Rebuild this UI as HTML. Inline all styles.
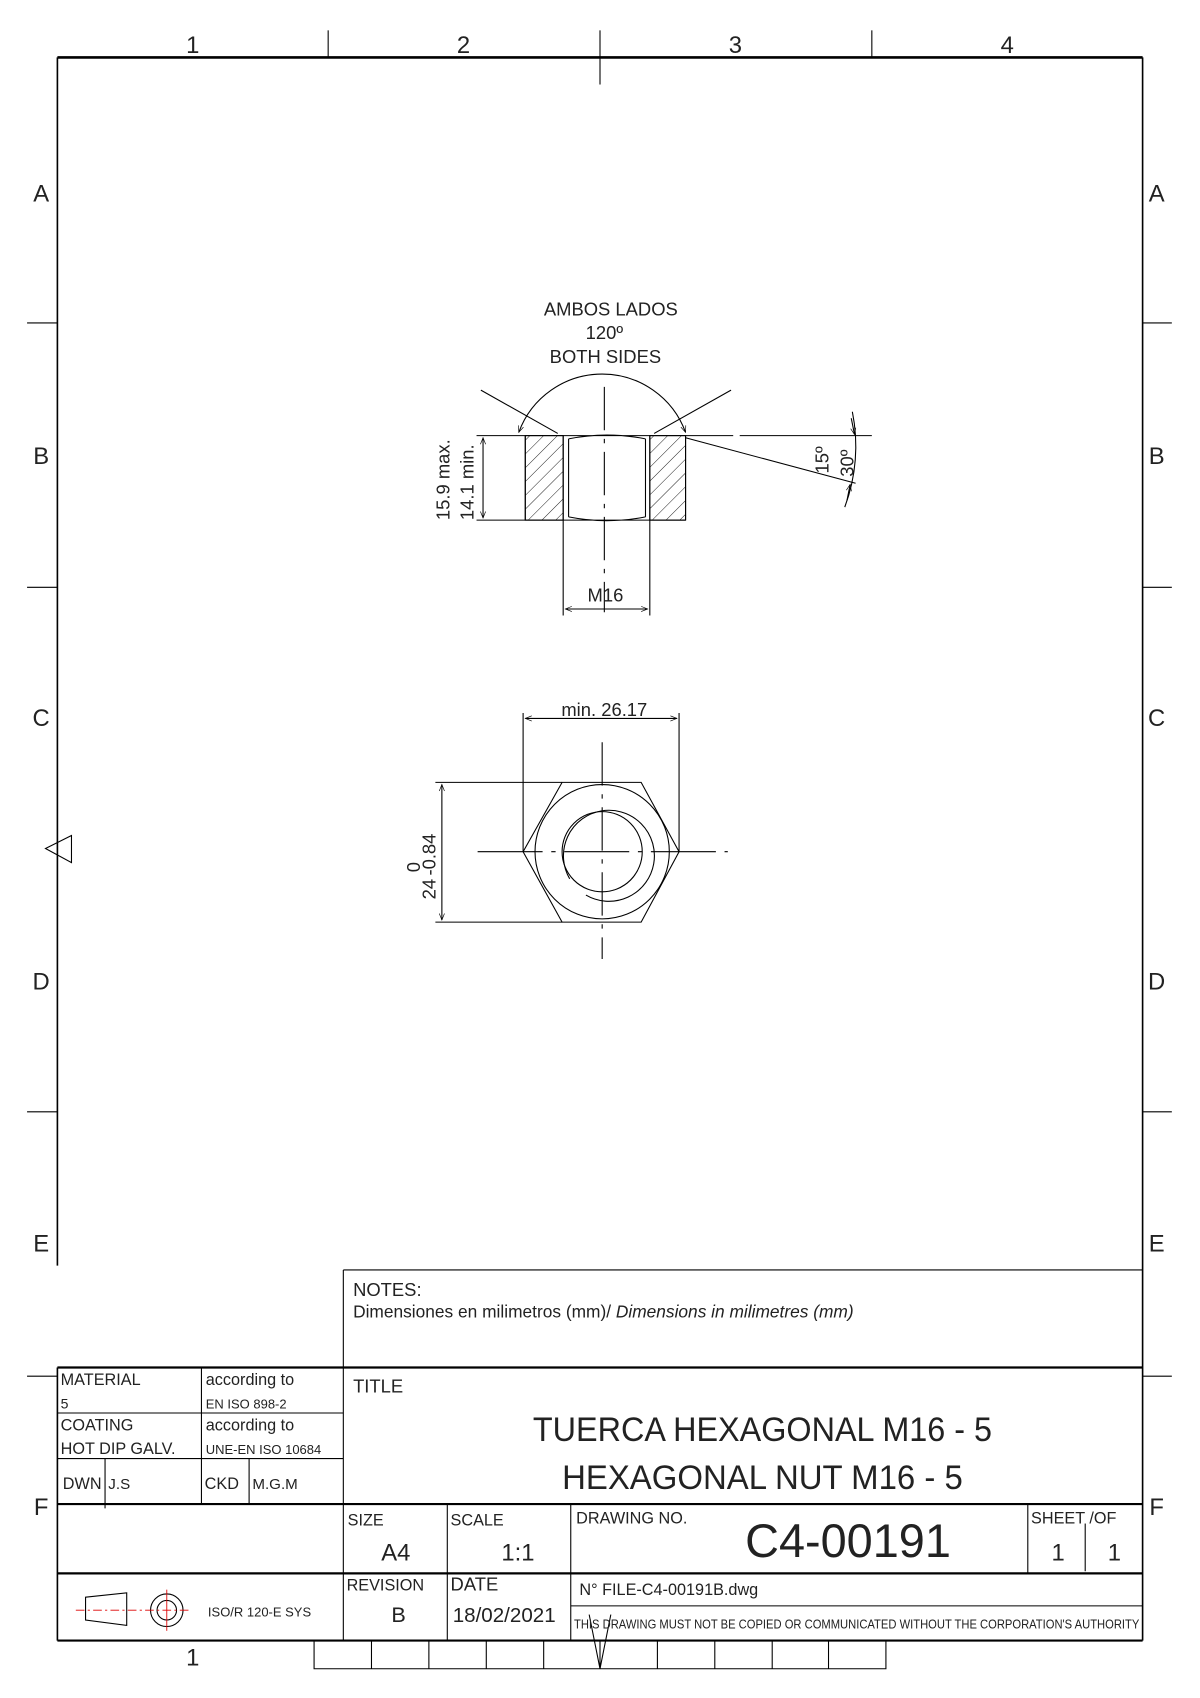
<!DOCTYPE html>
<html><head><meta charset="utf-8"><style>
html,body{margin:0;padding:0;background:#fff;}
svg{display:block;}
text{font-family:"Liberation Sans Narrow","Liberation Sans",sans-serif;fill:#222;}
</style></head><body>
<svg width="1200" height="1698" viewBox="0 0 1108 1567" preserveAspectRatio="none" xmlns="http://www.w3.org/2000/svg">
<defs>
<marker id="ar" viewBox="0 0 10 10" refX="10" refY="5" markerWidth="10" markerHeight="6" orient="auto-start-reverse" markerUnits="userSpaceOnUse"><path d="M0,1 L10,5 L0,9" fill="none" stroke="#000" stroke-width="1"/></marker>
<pattern id="hatch" patternUnits="userSpaceOnUse" width="9" height="9" patternTransform="rotate(45)"><line x1="0" y1="0" x2="0" y2="9" stroke="#000" stroke-width="0.8"/></pattern>
</defs>
<g stroke="#000" fill="none" stroke-width="1">
<line x1="53" y1="53" x2="1055" y2="53" stroke-width="2.5"/>
<line x1="1055" y1="53" x2="1055" y2="1514" stroke-width="1.5"/>
<line x1="53" y1="53" x2="53" y2="1168" stroke-width="1.5"/>
<line x1="303" y1="28" x2="303" y2="53"/><line x1="554" y1="28" x2="554" y2="78"/><line x1="805" y1="28" x2="805" y2="53"/>
<line x1="25" y1="298" x2="53" y2="298"/><line x1="25" y1="542" x2="53" y2="542"/><line x1="25" y1="1026" x2="53" y2="1026"/><line x1="25" y1="1270" x2="53" y2="1270"/>
<line x1="1055" y1="298" x2="1082" y2="298"/><line x1="1055" y1="542" x2="1082" y2="542"/><line x1="1055" y1="1026" x2="1082" y2="1026"/><line x1="1055" y1="1270" x2="1082" y2="1270"/>
<path d="M66,771 L42,783 L66,796 Z"/>
<rect x="485" y="402" width="35" height="78" fill="url(#hatch)"/>
<rect x="600" y="402" width="33" height="78" fill="url(#hatch)"/>
<path d="M485,402 H633 M485,480 H633 M485,402 V480 M633,402 V480 M520,402 V480 M600,402 V480 M525,405 V477 M596,405 V477 M525,405 Q560,398 596,405 M525,477 Q560,484 596,477"/>
<line x1="558" y1="357" x2="558" y2="565" stroke-dasharray="40,8,4,8"/>
<line x1="444" y1="360" x2="515" y2="400"/><line x1="675" y1="360" x2="604" y2="400"/>
<line x1="633" y1="402" x2="677" y2="402"/><line x1="683" y1="402" x2="805" y2="402"/>
<line x1="633" y1="404" x2="790" y2="446"/>
<path d="M479,399 A82,82 0 0 1 633,399" marker-start="url(#ar)" marker-end="url(#ar)"/>
<path d="M787,380 A160,160 0 0 1 780,468"/>
<path d="M786,386 L789,401" marker-end="url(#ar)"/><path d="M782,462 L785,447" marker-end="url(#ar)"/>
<line x1="440" y1="402" x2="485" y2="402"/><line x1="440" y1="480" x2="485" y2="480"/>
<line x1="446" y1="404" x2="446" y2="478" marker-start="url(#ar)" marker-end="url(#ar)"/>
<line x1="520" y1="480" x2="520" y2="568"/><line x1="600" y1="480" x2="600" y2="568"/>
<line x1="522" y1="562" x2="598" y2="562" marker-start="url(#ar)" marker-end="url(#ar)"/>
<path d="M519,722 H592 L627,786 L592,851 H519 L483,786 Z"/>
<circle cx="556" cy="786" r="62"/>
<circle cx="556" cy="786" r="37"/>
<path d="M526,811 A42,42 0 1 1 541,826"/>
<line x1="441" y1="786" x2="672" y2="786" stroke-dasharray="60,8,4,8"/>
<line x1="556" y1="685" x2="556" y2="885" stroke-dasharray="40,8,4,8"/>
<line x1="483" y1="786" x2="483" y2="658"/><line x1="627" y1="786" x2="627" y2="658"/>
<line x1="485" y1="663" x2="625" y2="663" marker-start="url(#ar)" marker-end="url(#ar)"/>
<line x1="402" y1="722" x2="519" y2="722"/><line x1="402" y1="851" x2="519" y2="851"/>
<line x1="408" y1="724" x2="408" y2="849" marker-start="url(#ar)" marker-end="url(#ar)"/>
<path d="M317,1172 H1055 M317,1172 V1514" />
<line x1="53" y1="1262" x2="1055" y2="1262" stroke-width="2"/>
<line x1="53" y1="1262" x2="53" y2="1514" stroke-width="1.5"/>
<line x1="53" y1="1304" x2="317" y2="1304"/><line x1="53" y1="1346" x2="317" y2="1346"/>
<line x1="186" y1="1262" x2="186" y2="1388"/><line x1="97" y1="1346" x2="97" y2="1392"/><line x1="230" y1="1346" x2="230" y2="1388"/>
<line x1="53" y1="1388" x2="1055" y2="1388" stroke-width="2"/>
<line x1="53" y1="1452" x2="1055" y2="1452" stroke-width="2"/>
<line x1="527" y1="1482" x2="1055" y2="1482"/>
<line x1="53" y1="1514" x2="1055" y2="1514" stroke-width="2"/>
<line x1="413" y1="1388" x2="413" y2="1514"/><line x1="527" y1="1388" x2="527" y2="1514"/>
<line x1="949" y1="1388" x2="949" y2="1452"/><line x1="1002" y1="1406" x2="1002" y2="1450"/>
<path d="M290,1514 V1540 H818 V1514"/>
<path d="M343,1514 V1540 M396,1514 V1540 M449,1514 V1540 M502,1514 V1540 M554,1514 V1540 M607,1514 V1540 M660,1514 V1540 M713,1514 V1540 M765,1514 V1540"/>
<path d="M544,1490 L554,1540 L564,1490"/>
<path d="M79,1474 L117,1470 V1500 L79,1495 Z"/>
<circle cx="154" cy="1486" r="15"/><circle cx="154" cy="1486" r="9"/>
<g stroke="#d00" stroke-width="0.8"><line x1="70" y1="1486" x2="175" y2="1486" stroke-dasharray="8,3,2,3"/><line x1="154" y1="1467" x2="154" y2="1505"/></g>
</g>
<g font-size="22">
<text x="178" y="49" text-anchor="middle">1</text><text x="428" y="49" text-anchor="middle">2</text><text x="679" y="49" text-anchor="middle">3</text><text x="930" y="49" text-anchor="middle">4</text>
<text x="38" y="186" text-anchor="middle">A</text><text x="38" y="428" text-anchor="middle">B</text><text x="38" y="670" text-anchor="middle">C</text><text x="38" y="913" text-anchor="middle">D</text><text x="38" y="1155" text-anchor="middle">E</text><text x="38" y="1398" text-anchor="middle">F</text>
<text x="1068" y="186" text-anchor="middle">A</text><text x="1068" y="428" text-anchor="middle">B</text><text x="1068" y="670" text-anchor="middle">C</text><text x="1068" y="913" text-anchor="middle">D</text><text x="1068" y="1155" text-anchor="middle">E</text><text x="1068" y="1398" text-anchor="middle">F</text>
<text x="178" y="1537" text-anchor="middle">1</text>
</g>
<g font-size="17" text-anchor="middle">
<text x="564" y="291">AMBOS LADOS</text>
<text x="558" y="313">120º</text>
<text x="559" y="335">BOTH SIDES</text>
<text x="559" y="555">M16</text>
<text x="558" y="661">min. 26.17</text>
</g>
<g font-size="17">
<text transform="translate(415,480) rotate(-90)">15.9 max.</text>
<text transform="translate(437,480) rotate(-90)">14.1 min.</text>
<text transform="translate(765,437) rotate(-90)">15º</text>
<text transform="translate(788,440) rotate(-90)">30º</text>
<text transform="translate(402,830) rotate(-90)">24</text>
<text transform="translate(388,805) rotate(-90)">0</text>
<text transform="translate(402,808) rotate(-90)">-0.84</text>
</g>
<g font-size="17">
<text x="326" y="1196">NOTES:</text>
<text x="326" y="1216" font-size="16" style="font-family:'Liberation Sans',sans-serif">Dimensiones en milimetros (mm)/ <tspan font-style="italic">Dimensions in milimetres (mm)</tspan></text>
<text x="326" y="1285">TITLE</text>
<text x="56" y="1278" font-size="15">MATERIAL</text>
<text x="56" y="1300" font-size="13">5</text>
<text x="190" y="1278" font-size="15">according to</text>
<text x="190" y="1300" font-size="12">EN ISO 898-2</text>
<text x="56" y="1320" font-size="15">COATING</text>
<text x="56" y="1342" font-size="15">HOT DIP GALV.</text>
<text x="190" y="1320" font-size="15">according to</text>
<text x="190" y="1342" font-size="12">UNE-EN ISO 10684</text>
<text x="58" y="1374" font-size="15">DWN</text><text x="100" y="1374" font-size="14">J.S</text>
<text x="189" y="1374" font-size="15">CKD</text><text x="233" y="1374" font-size="14">M.G.M</text>
<text x="704" y="1330" font-size="32" text-anchor="middle" textLength="424" lengthAdjust="spacingAndGlyphs">TUERCA HEXAGONAL M16 - 5</text>
<text x="704" y="1374" font-size="32" text-anchor="middle" textLength="370" lengthAdjust="spacingAndGlyphs">HEXAGONAL NUT M16 - 5</text>
<text x="321" y="1408" font-size="15">SIZE</text>
<text x="352" y="1440" font-size="22">A4</text>
<text x="416" y="1408" font-size="15">SCALE</text>
<text x="463" y="1440" font-size="22">1:1</text>
<text x="532" y="1406" font-size="15">DRAWING NO.</text>
<text x="783" y="1437" font-size="44" text-anchor="middle" textLength="190" lengthAdjust="spacingAndGlyphs">C4-00191</text>
<text x="952" y="1406" font-size="15">SHEET /OF</text>
<text x="977" y="1440" font-size="22" text-anchor="middle">1</text><text x="1029" y="1440" font-size="22" text-anchor="middle">1</text>
<text x="320" y="1468" font-size="15">REVISION</text>
<text x="368" y="1497" font-size="20" text-anchor="middle">B</text>
<text x="416" y="1468" font-size="17">DATE</text>
<text x="418" y="1497" font-size="19">18/02/2021</text>
<text x="535" y="1472" font-size="15">N° FILE-C4-00191B.dwg</text>
<text x="530" y="1503" font-size="12" textLength="522" lengthAdjust="spacingAndGlyphs">THIS DRAWING MUST NOT BE COPIED OR COMMUNICATED WITHOUT THE CORPORATION'S AUTHORITY</text>
<text x="192" y="1492" font-size="12">ISO/R 120-E SYS</text>
</g>
</svg>
</body></html>
